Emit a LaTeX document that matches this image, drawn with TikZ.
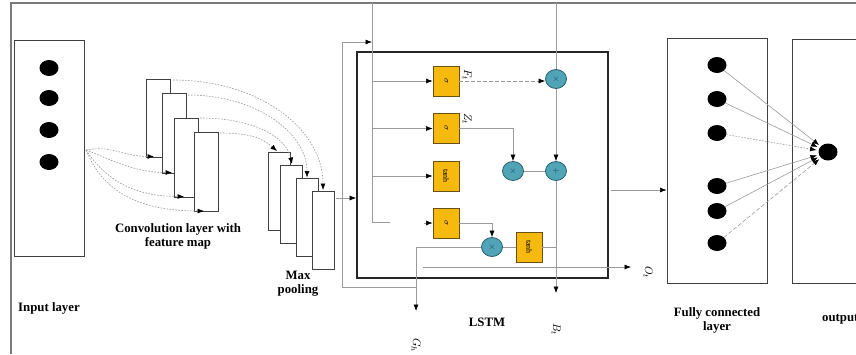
\documentclass[tikz,border=0pt]{standalone}
\usepackage{fontspec}
\usepackage{graphicx}
\setmainfont{Liberation Serif}
\usetikzlibrary{arrows.meta,shapes.geometric,calc}
\definecolor{gateor}{HTML}{F6B90E}
\definecolor{gatebd}{HTML}{6B5016}
\definecolor{opfill}{HTML}{4FA4B6}
\definecolor{opbd}{HTML}{2A5F70}
\definecolor{framegray}{HTML}{7A7A7A}
\definecolor{wiregray}{HTML}{9A9A9A}
\definecolor{symblue}{HTML}{1F3F6A}
\tikzset{
  layerbox/.style={draw=black!75, line width=0.9pt, fill=white, inner sep=0pt},
  neuron/.style={ellipse, fill=black, inner sep=0pt, minimum width=19pt, minimum height=16pt},
  fmap/.style={draw=black!75, line width=0.9pt, fill=white, inner sep=0pt, minimum width=24pt, minimum height=79pt},
  pmap/.style={fmap, minimum width=22pt, minimum height=78pt},
  gatebox/.style={draw=gatebd, line width=0.9pt, fill=gateor, inner sep=0pt, minimum width=26pt, minimum height=30pt, font=\fontsize{8}{8}\selectfont},
  opnode/.style={ellipse, draw=opbd, line width=0.8pt, fill=opfill, minimum width=21pt, minimum height=19pt, inner sep=0pt, font=\fontsize{9}{9}\selectfont, text=symblue},
  wire/.style={draw=wiregray, line width=0.6pt},
  arr/.style={wire, -{Latex[length=6.5pt,width=5pt,color=black]}},
  dotarr/.style={arr, dash pattern=on 1.6pt off 1.4pt},
  dashed arr/.style={arr, dash pattern=on 4pt off 2pt},
  lbl/.style={font=\bfseries\fontsize{12.8}{14}\selectfont, align=center, inner sep=0pt},
  rlbl/.style={rotate=-90, font=\fontsize{11}{11}\selectfont, inner sep=0pt}
}
\begin{document}
\begin{tikzpicture}[x=1pt,y=-1pt]
\useasboundingbox (0,0) rectangle (856,354);
\clip (0,0) rectangle (856,354);
\fill[white] (0,0) rectangle (856,354);
\draw[framegray, line width=1.8pt] (11,354) -- (11,3) -- (857,3);

% ---------- input layer
\node[layerbox, minimum width=70pt, minimum height=216pt] (inbox) at (49,148) {};
\foreach \i/\y in {1/68,2/98,3/130,4/162} \node[neuron] (in\i) at (49,\y) {};
\node[lbl] (inlbl) at (49,308) {Input layer};

% ---------- convolution feature maps
\node[fmap, minimum height=78pt] (cv1) at (158,118) {};
\node[fmap, minimum height=80pt] (cv2) at (174,133) {};
\node[fmap] (cv3) at (186,157.5) {};
\node[fmap] (cv4) at (206,172) {};
\node[lbl] (cvlbl) at (178,236) {Convolution layer with\\feature map};

\coordinate (inout) at (86,150);
\coordinate (cv1in) at (154,156.5);
\coordinate (cv2in) at (172,172.5);
\coordinate (cv3in) at (184,196.5);
\coordinate (cv4in) at (204,211);
\draw[dotarr] (inout) .. controls +(25,-5) and +(-30,0) .. (cv1in);
\draw[dotarr] (inout) .. controls +(22,8) and +(-40,0) .. (cv2in);
\draw[dotarr] (inout) .. controls +(20,30) and +(-50,0) .. (cv3in);
\draw[dotarr] (inout) .. controls +(18,45) and +(-60,0) .. (cv4in);

% ---------- max pooling
\node[pmap] (pl1) at (279,191) {};
\node[pmap] (pl2) at (291,204) {};
\node[pmap] (pl3) at (307,217) {};
\node[pmap] (pl4) at (323,230) {};
\node[lbl] (pllbl) at (298,284) {Max\\pooling};

\coordinate (cv1o) at (173,80);
\coordinate (cv2o) at (188,95);
\coordinate (cv3o) at (200,118);
\coordinate (cv4o) at (220,133);
\coordinate (pl1i) at (277,151);
\coordinate (pl2i) at (292,164);
\coordinate (pl3i) at (307,177.5);
\coordinate (pl4i) at (323,190);
\draw[dotarr] (cv1o) .. controls +(85,0) and +(0,-62) .. (pl4i);
\draw[dotarr] (cv2o) .. controls +(66,0) and +(0,-46) .. (pl3i);
\draw[dotarr] (cv3o) .. controls +(52,0) and +(-6,-28) .. (pl2i);
\draw[dotarr] (cv4o) .. controls +(32,0) and +(-14,-12) .. (pl1i);

% ---------- LSTM
\node[draw=black!85, line width=1.8pt, minimum width=251pt, minimum height=226pt, inner sep=0pt] (lstm) at (482.5,165) {};
\coordinate (plout) at (336,198);
\draw[arr] (plout) -- (plout -| lstm.west);

\node[gatebox] (g1) at (446,81) {\rotatebox{-90}{$\sigma$}};
\node[gatebox] (g2) at (446,128.5) {\rotatebox{-90}{$\sigma$}};
\node[gatebox] (g3) at (446,176) {\rotatebox{-90}{tanh}};
\node[gatebox] (g4) at (446,223) {\rotatebox{-90}{$\sigma$}};
\node[gatebox] (g5) at (529,247) {\rotatebox{-90}{tanh}};

\node[opnode] (m1) at (556,79) {$\times$};
\node[opnode] (m2) at (513,171) {$\times$};
\node[opnode] (a1) at (556,171) {$+$};
\node[opnode] (m3) at (492,247) {$\times$};

\coordinate (topA) at (372,3);
\coordinate (topB) at (556,3);
\coordinate (dA) at (372,222);
\coordinate (dAe) at (390,222);
\draw[wire] (topA) -- (dA) -- (dAe);
\draw[arr] (topA |- g1.west) -- (g1.west);
\draw[arr] (topA |- g2.west) -- (g2.west);
\draw[arr] (topA |- g3.west) -- (g3.west);
\coordinate (g4s) at (424,223);
\draw[arr] (g4s) -- (g4.west);

\draw[dashed arr] (g1.east) -- (g1.east -| m1.west);
\draw[arr] (g2.east) -| (m2.north);
\draw[wire] (topB) -- (m1.north);
\draw[arr] (m1.south) -- (a1.north);
\coordinate (bout) at (556,293);
\draw[arr] (a1.south) -- (bout);
\draw[wire] (m2.east) -- (a1.west);
\draw[arr] (g4.east) -| (m3.north);
\draw[wire] (m3.east) -- (g5.west);
\draw[wire] (g5.east) -- (g5.east -| a1.south);
\coordinate (gturn) at (416,247);
\coordinate (gout) at (416,311);
\draw[arr] (m3.west) -- (gturn) -- (gout);
\coordinate (fb1) at (416,287);
\coordinate (fb2) at (342,287);
\coordinate (fb3) at (342,42);
\coordinate (fb4) at (372,42);
\draw[arr] (fb1) -- (fb2) -- (fb3) -- (fb4);
\coordinate (os) at (423,267);
\coordinate (oe) at (631,267);
\draw[arr] (os) -- (oe);

\node[rlbl] (Ft) at (467,75) {$F_t$};
\node[rlbl] (Zt) at (467,119) {$Z_t$};
\node[rlbl] (Ot) at (648,272) {$O_t$};
\node[rlbl] (Bt) at (556,329) {$B_t$};
\node[rlbl] (Gh) at (416,345) {$G_h$};
\node[lbl] (lstmlbl) at (487,322) {LSTM};

% ---------- fully connected
\node[layerbox, minimum width=100pt, minimum height=245pt] (fc) at (717,160.5) {};
\coordinate (ls) at (611,190);
\draw[arr] (ls) -- (ls -| fc.west);
\foreach \i/\y in {1/65,2/99,3/133,4/186,5/211,6/243} \node[neuron] (f\i) at (717,\y) {};
\node[lbl] (fclbl) at (717,320) {Fully connected\\layer};

% ---------- output
\node[layerbox, minimum width=120pt, minimum height=244pt] (obox) at (852,161) {};
\node[neuron, minimum width=19pt, minimum height=17pt] (oc) at (828,152) {};
\draw[arr, shorten >=2pt] (f1) -- (oc);
\draw[arr, shorten >=2pt] (f2) -- (oc);
\draw[dotarr, shorten >=2pt] (f3) -- (oc);
\draw[arr, shorten >=2pt] (f4) -- (oc);
\draw[arr, shorten >=2pt] (f5) -- (oc);
\draw[dashed arr, shorten >=2pt] (f6) -- (oc);
\node[lbl, anchor=west] (outlbl) at (822,319) {output};
\end{tikzpicture}
\end{document}
